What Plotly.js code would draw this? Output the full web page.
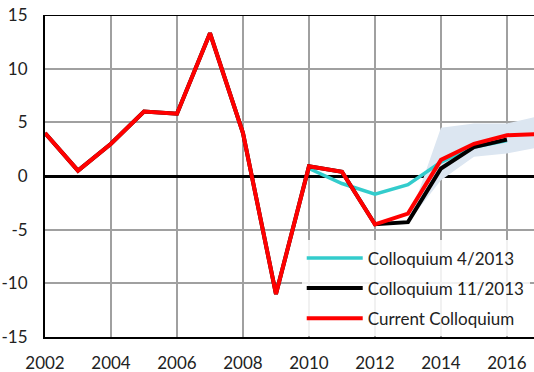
<!DOCTYPE html>
<html><head><meta charset="utf-8">
<script src="https://cdn.plot.ly/plotly-3.0.1.min.js"></script>
<style>html,body{margin:0;padding:0;background:#fff}#c{width:534px;height:372px}</style>
</head><body><div id="c"></div>
<script>
const years = [2002,2003,2004,2005,2006,2007,2008,2009,2010,2011,2012,2013,2014,2015,2016,2017];
const current = [4.0,0.5,3.0,6.0,5.8,13.3,4.0,-11.0,0.9,0.4,-4.5,-3.5,1.5,3.0,3.8,3.9];
const col1113Years = [2002,2003,2004,2005,2006,2007,2008,2009,2010,2011,2012,2013,2014,2015,2016];
const col1113 = [4.0,0.5,3.0,6.0,5.8,13.3,4.0,-11.0,0.9,0.4,-4.5,-4.3,0.7,2.7,3.4];
const col0413Years = [2010,2011,2012,2013,2014,2015,2016];
const col0413 = [0.7,-0.7,-1.7,-0.8,1.3,2.7,3.3];
const bandYears = [2013,2014,2015,2016,2017];
const bandLow = [-4.3,-0.4,1.8,2.1,2.7];
const bandHigh = [-4.3,4.5,4.9,4.9,5.6];
const xTicks = [2002,2004,2006,2008,2010,2012,2014,2016];
const yTicks = [-15,-10,-5,0,5,10,15];

const FONT = 'Lato, "Open Sans", sans-serif';
const traces = [
  {x: bandYears, y: bandLow, mode:'lines', line:{width:0, color:'rgba(0,0,0,0)'}, showlegend:false, hoverinfo:'skip', legendgroup:'z'},
  {x: bandYears, y: bandHigh, mode:'lines', line:{width:0, color:'rgba(0,0,0,0)'}, fill:'tonexty', fillcolor:'#dce6f1', showlegend:false, hoverinfo:'skip', legendgroup:'z'},
  {x: col0413Years, y: col0413, mode:'lines', name:'Colloquium 4/2013', legendgroup:'a', line:{color:'#33cccc', width:3.5}},
  {x: col1113Years, y: col1113, mode:'lines', name:'Colloquium 11/2013', legendgroup:'b', line:{color:'#000000', width:4}},
  {x: years, y: current, mode:'lines', name:'Current Colloquium', legendgroup:'c', line:{color:'#ff0000', width:4}}
];
const layout = {
  width:534, height:372,
  margin:{l:45, r:0, t:15, b:35},
  paper_bgcolor:'#fff', plot_bgcolor:'#fff',
  font:{family:FONT, size:17, color:'#222'},
  showlegend:true,
  legend:{x:0.525, y:0.30, xanchor:'left', yanchor:'top', bgcolor:'rgba(255,255,255,0.85)',
          font:{family:FONT, size:17, color:'#222'}, itemwidth:56, tracegroupgap:5, traceorder:'grouped'},
  xaxis:{range:[2002, 2016.82], tickvals:xTicks, ticktext:xTicks.map(String), showgrid:true,
         gridcolor:'#a0a0a0', gridwidth:2, showline:true, linecolor:'#000', linewidth:2,
         ticks:'', ticklabelstandoff:10, zeroline:false, fixedrange:true},
  yaxis:{range:[-15,15], tickvals:yTicks, ticktext:yTicks.map(String), showgrid:true,
         gridcolor:'#a0a0a0', gridwidth:2, showline:true, linecolor:'#000', linewidth:2,
         ticks:'', ticklabelstandoff:12, zeroline:true, zerolinecolor:'#000', zerolinewidth:3, fixedrange:true},
  shapes:[{type:'line', xref:'paper', x0:0, x1:1, yref:'y', y0:15, y1:15, line:{color:'#000', width:2}}]
};
Plotly.newPlot('c', traces, layout, {staticPlot:true});
</script></body></html>
